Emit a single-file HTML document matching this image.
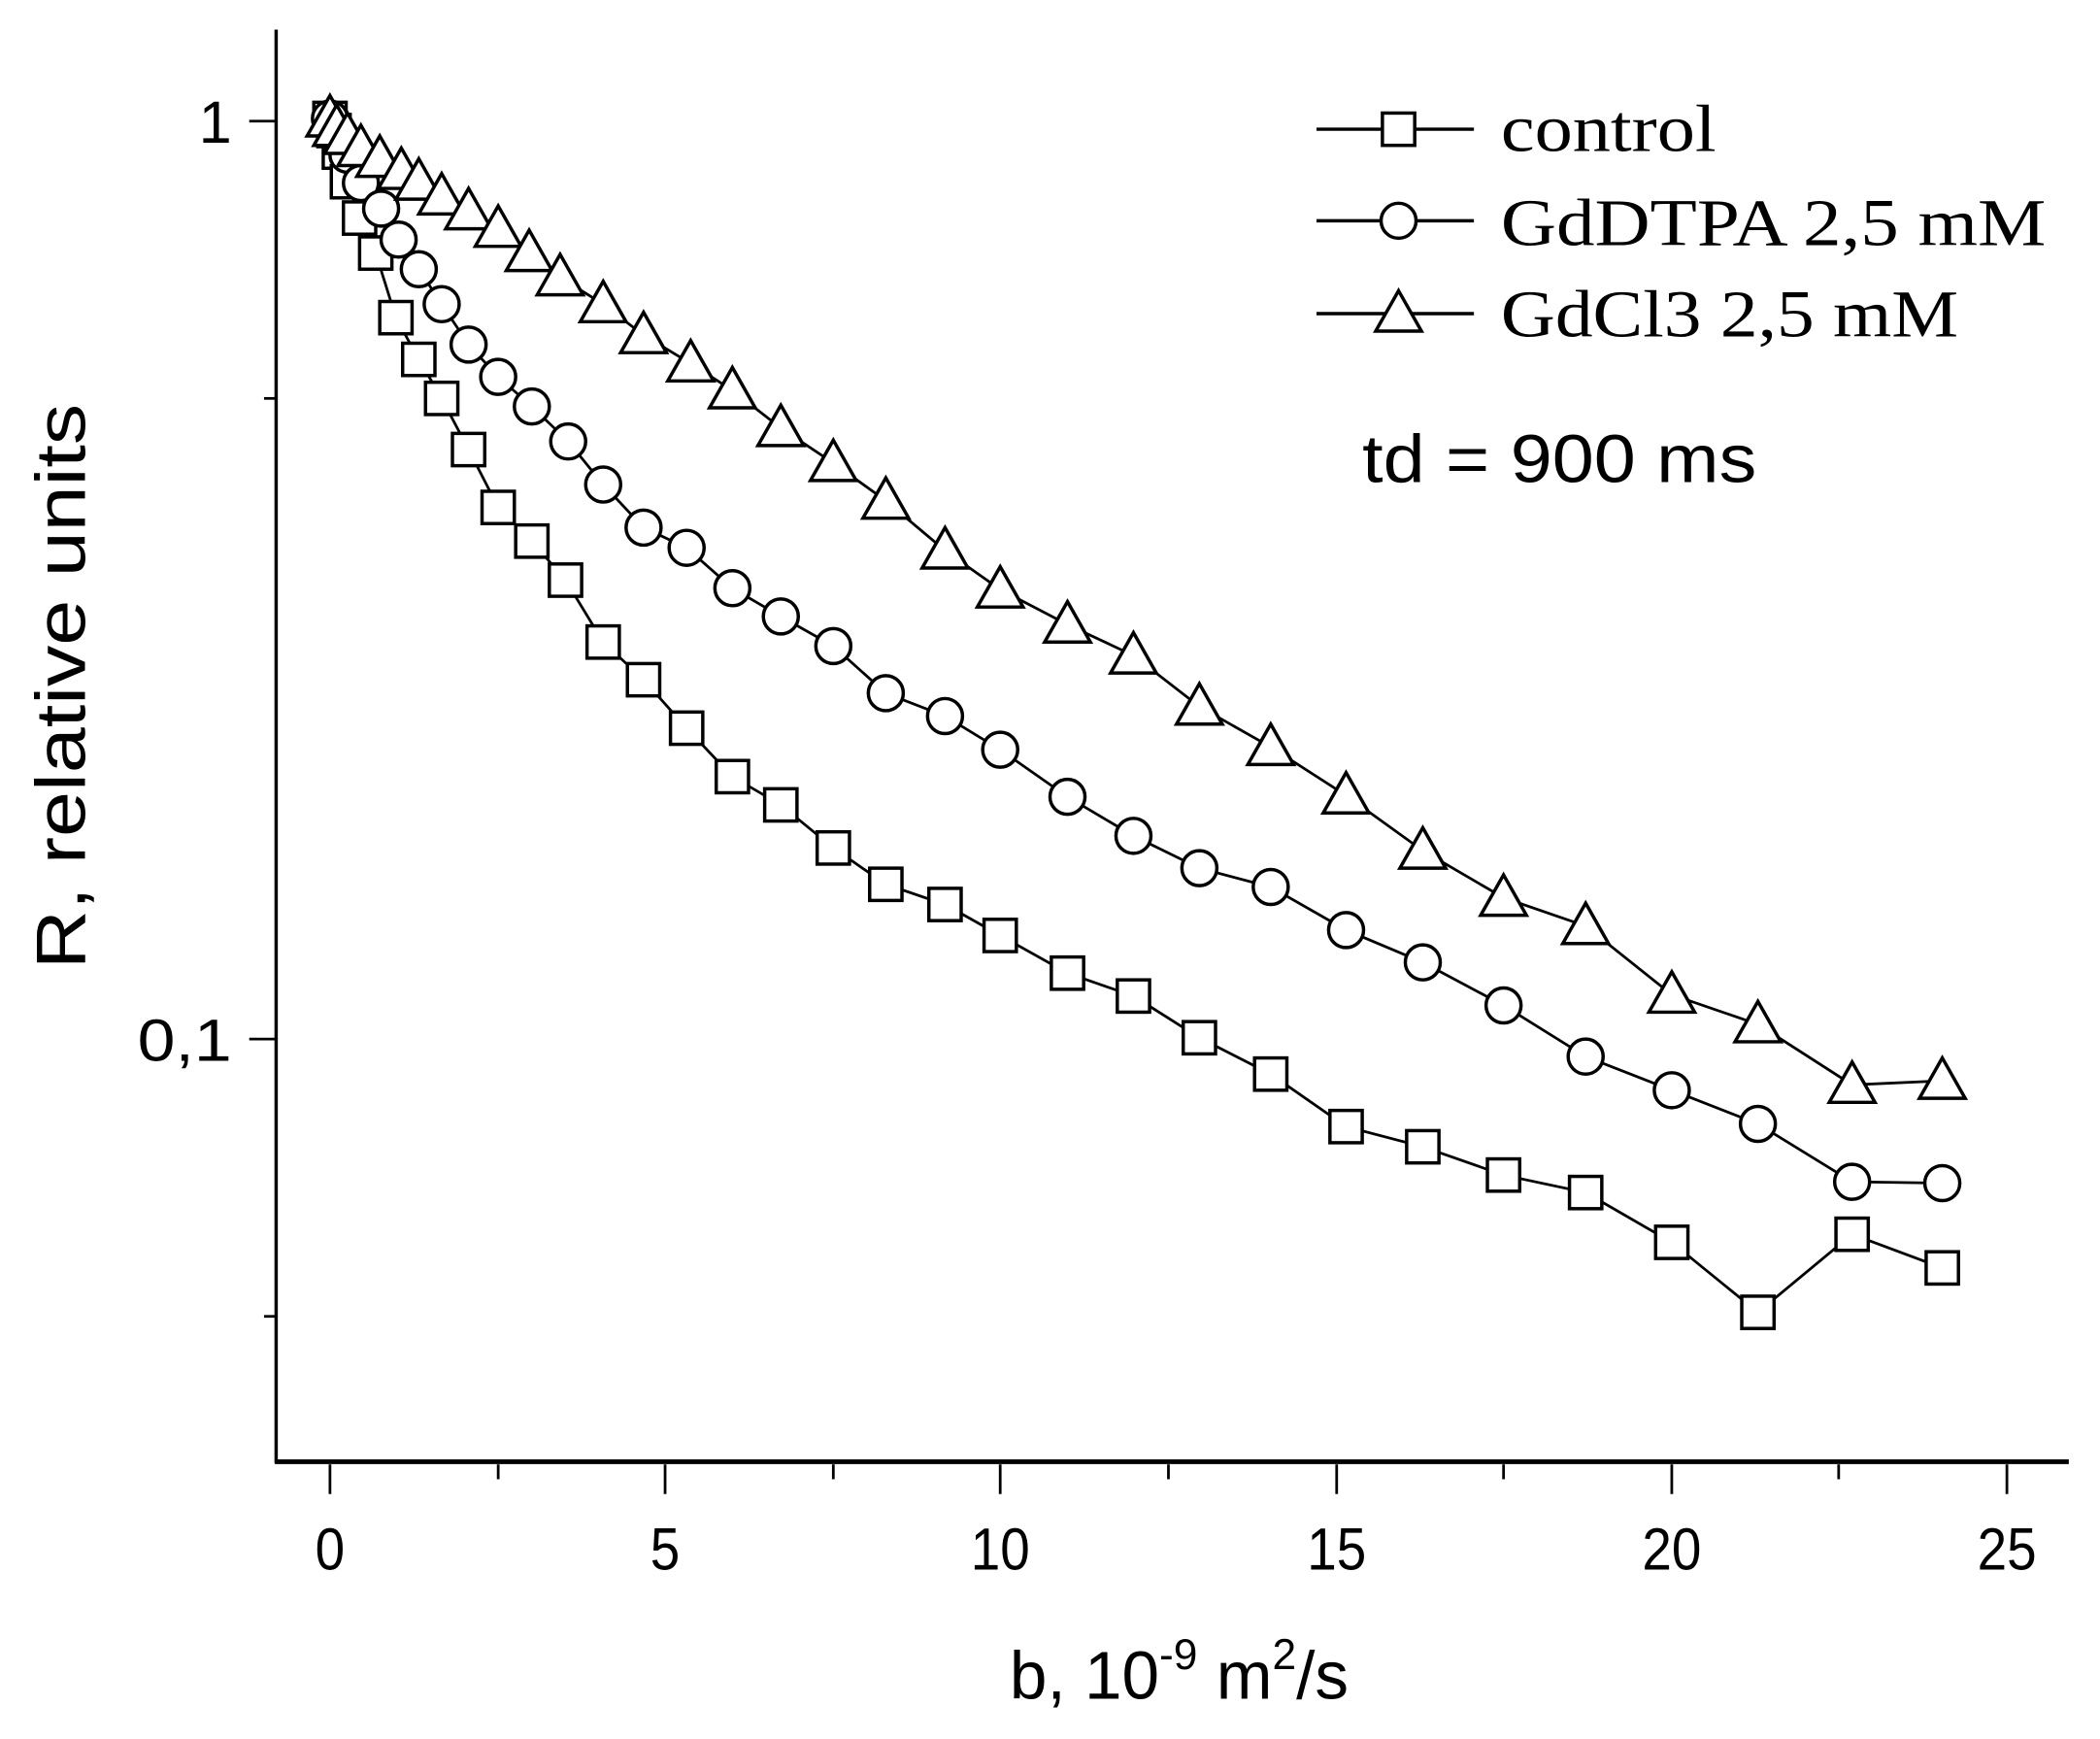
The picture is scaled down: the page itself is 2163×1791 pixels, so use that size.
<!DOCTYPE html>
<html><head><style>html,body{margin:0;padding:0;background:#fff}svg{display:block}</style></head>
<body>
<svg width="2163" height="1791" viewBox="0 0 1560 1292" xmlns="http://www.w3.org/2000/svg">
<rect width="1560" height="1292" fill="#fff"/>
<g stroke="#000" fill="none">
<line x1="205" y1="22" x2="205" y2="1087" stroke-width="2.5"/>
<line x1="204" y1="1086" x2="1537" y2="1086" stroke-width="3.5"/>
<g stroke-width="2">
<line x1="185" y1="90" x2="205" y2="90"/><line x1="185" y1="772" x2="205" y2="772"/>
<line x1="196" y1="296" x2="205" y2="296"/><line x1="196" y1="978" x2="205" y2="978"/>
<line x1="245" y1="1088" x2="245" y2="1110"/><line x1="494" y1="1088" x2="494" y2="1110"/>
<line x1="743" y1="1088" x2="743" y2="1110"/><line x1="993" y1="1088" x2="993" y2="1110"/>
<line x1="1242" y1="1088" x2="1242" y2="1110"/><line x1="1491" y1="1088" x2="1491" y2="1110"/>
<line x1="370" y1="1088" x2="370" y2="1099"/><line x1="619" y1="1088" x2="619" y2="1099"/>
<line x1="868" y1="1088" x2="868" y2="1099"/><line x1="1117" y1="1088" x2="1117" y2="1099"/>
<line x1="1366" y1="1088" x2="1366" y2="1099"/>
</g>
</g>
<g font-family="Liberation Sans, sans-serif" font-size="44" fill="#000">
<text x="172" y="106" text-anchor="end">1</text>
<text x="172" y="788" text-anchor="end" textLength="70" lengthAdjust="spacingAndGlyphs">0,1</text>
<g text-anchor="middle">
<text x="245" y="1166" textLength="22" lengthAdjust="spacingAndGlyphs">0</text>
<text x="494" y="1166" textLength="22" lengthAdjust="spacingAndGlyphs">5</text>
<text x="743" y="1166" textLength="44" lengthAdjust="spacingAndGlyphs">10</text>
<text x="993" y="1166" textLength="44" lengthAdjust="spacingAndGlyphs">15</text>
<text x="1242" y="1166" textLength="44" lengthAdjust="spacingAndGlyphs">20</text>
<text x="1491" y="1166" textLength="44" lengthAdjust="spacingAndGlyphs">25</text>
</g>
<text x="750" y="1262" font-size="50">b, 10<tspan font-size="32" dy="-22">-9</tspan><tspan dy="22"> m</tspan><tspan font-size="32" dy="-22">2</tspan><tspan dy="22">/s</tspan></text>
<text transform="translate(63,510) rotate(-90)" text-anchor="middle" font-size="52" textLength="420" lengthAdjust="spacingAndGlyphs">R, relative units</text>
<text x="1012" y="358" font-size="50" textLength="293" lengthAdjust="spacingAndGlyphs">td = 900 ms</text>
</g>
<g font-family="Liberation Serif, serif" font-size="50" fill="#000">
<text x="1115" y="112" textLength="160" lengthAdjust="spacingAndGlyphs">control</text>
<text x="1115" y="182" textLength="405" lengthAdjust="spacingAndGlyphs">GdDTPA 2,5 mM</text>
<text x="1115" y="250" textLength="340" lengthAdjust="spacingAndGlyphs">GdCl3 2,5 mM</text>
</g>
<g stroke="#000" stroke-width="2.5" fill="#fff">
<line x1="978" y1="96" x2="1095" y2="96"/><rect x="1027" y="84" width="24" height="24"/>
<line x1="978" y1="164" x2="1095" y2="164"/><circle cx="1039" cy="164" r="13"/>
<line x1="978" y1="233" x2="1095" y2="233"/><polygon points="1039,216 1056,246 1022,246"/>
</g>
<g stroke="#000" stroke-width="2.5" fill="#fff">
<polyline fill="none" stroke-width="2" points="245,88 248,97 252,113 258,135 267,162 279,188 294,236 311,267 328,296 348,334 370,377 395,402 420,431 448,477 478,505 510,541 544,577 580,598 619,630 658,657 702,672 743,695 793,723 842,740 891,771 944,798 1000,837 1057,852 1117,873 1178,886 1242,923 1306,975 1376,917 1443,942"/>
<polyline fill="none" stroke-width="2" points="245,88 250,100 258,115 268,136 283,155 296,178 311,200 328,226 348,256 370,280 395,302 422,328 448,360 478,392 510,407 544,437 580,458 619,480 658,515 702,532 743,557 793,592 842,621 891,645 944,659 1000,691 1057,715 1117,747 1178,785 1242,810 1306,835 1376,878 1443,879"/>
<polyline fill="none" stroke-width="2" points="245,88 250,95 258,101 268,110 282,118 298,127 311,135 328,146 348,157 370,170 393,188 416,206 448,226 478,249 513,270 544,290 580,318 619,344 658,372 702,409 743,438 793,464 842,487 891,525 944,555 1000,591 1057,632 1117,667 1178,688 1242,739 1306,761 1376,806 1443,803"/>
<rect x="233" y="76" width="24" height="24"/><rect x="236" y="85" width="24" height="24"/><rect x="240" y="101" width="24" height="24"/><rect x="246" y="123" width="24" height="24"/><rect x="255" y="150" width="24" height="24"/><rect x="267" y="176" width="24" height="24"/><rect x="282" y="224" width="24" height="24"/><rect x="299" y="255" width="24" height="24"/><rect x="316" y="284" width="24" height="24"/><rect x="336" y="322" width="24" height="24"/><rect x="358" y="365" width="24" height="24"/><rect x="383" y="390" width="24" height="24"/><rect x="408" y="419" width="24" height="24"/><rect x="436" y="465" width="24" height="24"/><rect x="466" y="493" width="24" height="24"/><rect x="498" y="529" width="24" height="24"/><rect x="532" y="565" width="24" height="24"/><rect x="568" y="586" width="24" height="24"/><rect x="607" y="618" width="24" height="24"/><rect x="646" y="645" width="24" height="24"/><rect x="690" y="660" width="24" height="24"/><rect x="731" y="683" width="24" height="24"/><rect x="781" y="711" width="24" height="24"/><rect x="830" y="728" width="24" height="24"/><rect x="879" y="759" width="24" height="24"/><rect x="932" y="786" width="24" height="24"/><rect x="988" y="825" width="24" height="24"/><rect x="1045" y="840" width="24" height="24"/><rect x="1105" y="861" width="24" height="24"/><rect x="1166" y="874" width="24" height="24"/><rect x="1230" y="911" width="24" height="24"/><rect x="1294" y="963" width="24" height="24"/><rect x="1364" y="905" width="24" height="24"/><rect x="1431" y="930" width="24" height="24"/>
<circle cx="245" cy="88" r="13"/><circle cx="250" cy="100" r="13"/><circle cx="258" cy="115" r="13"/><circle cx="268" cy="136" r="13"/><circle cx="283" cy="155" r="13"/><circle cx="296" cy="178" r="13"/><circle cx="311" cy="200" r="13"/><circle cx="328" cy="226" r="13"/><circle cx="348" cy="256" r="13"/><circle cx="370" cy="280" r="13"/><circle cx="395" cy="302" r="13"/><circle cx="422" cy="328" r="13"/><circle cx="448" cy="360" r="13"/><circle cx="478" cy="392" r="13"/><circle cx="510" cy="407" r="13"/><circle cx="544" cy="437" r="13"/><circle cx="580" cy="458" r="13"/><circle cx="619" cy="480" r="13"/><circle cx="658" cy="515" r="13"/><circle cx="702" cy="532" r="13"/><circle cx="743" cy="557" r="13"/><circle cx="793" cy="592" r="13"/><circle cx="842" cy="621" r="13"/><circle cx="891" cy="645" r="13"/><circle cx="944" cy="659" r="13"/><circle cx="1000" cy="691" r="13"/><circle cx="1057" cy="715" r="13"/><circle cx="1117" cy="747" r="13"/><circle cx="1178" cy="785" r="13"/><circle cx="1242" cy="810" r="13"/><circle cx="1306" cy="835" r="13"/><circle cx="1376" cy="878" r="13"/><circle cx="1443" cy="879" r="13"/>
<polygon points="245,71 262,101 228,101"/><polygon points="250,78 267,108 233,108"/><polygon points="258,84 275,114 241,114"/><polygon points="268,93 285,123 251,123"/><polygon points="282,101 299,131 265,131"/><polygon points="298,110 315,140 281,140"/><polygon points="311,118 328,148 294,148"/><polygon points="328,129 345,159 311,159"/><polygon points="348,140 365,170 331,170"/><polygon points="370,153 387,183 353,183"/><polygon points="393,171 410,201 376,201"/><polygon points="416,189 433,219 399,219"/><polygon points="448,209 465,239 431,239"/><polygon points="478,232 495,262 461,262"/><polygon points="513,253 530,283 496,283"/><polygon points="544,273 561,303 527,303"/><polygon points="580,301 597,331 563,331"/><polygon points="619,327 636,357 602,357"/><polygon points="658,355 675,385 641,385"/><polygon points="702,392 719,422 685,422"/><polygon points="743,421 760,451 726,451"/><polygon points="793,447 810,477 776,477"/><polygon points="842,470 859,500 825,500"/><polygon points="891,508 908,538 874,538"/><polygon points="944,538 961,568 927,568"/><polygon points="1000,574 1017,604 983,604"/><polygon points="1057,615 1074,645 1040,645"/><polygon points="1117,650 1134,680 1100,680"/><polygon points="1178,671 1195,701 1161,701"/><polygon points="1242,722 1259,752 1225,752"/><polygon points="1306,744 1323,774 1289,774"/><polygon points="1376,789 1393,819 1359,819"/><polygon points="1443,786 1460,816 1426,816"/>
</g>
</svg>
</body></html>
